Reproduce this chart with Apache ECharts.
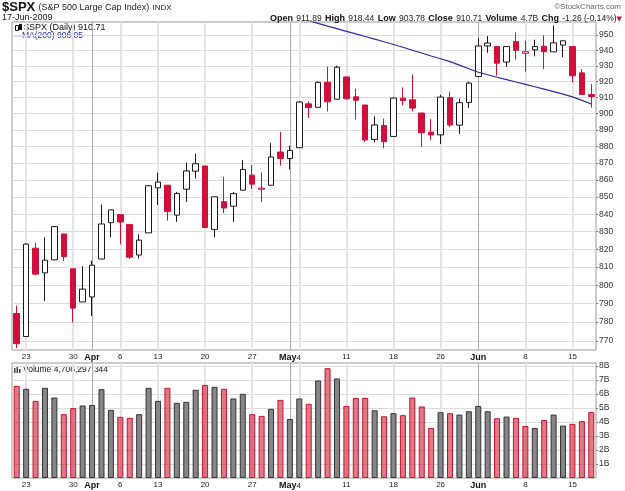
<!DOCTYPE html>
<html>
<head>
<meta charset="utf-8">
<script src="https://cdn.jsdelivr.net/npm/echarts@6/dist/echarts.min.js"></script>
<style>
  html, body { margin: 0; padding: 0; background: #fff; }
  #chart { width: 625px; height: 491px; }
</style>
</head>
<body>
<div id="chart"></div>
<script>
// trading days 20-Mar-2009 .. 17-Jun-2009
const dates = [
  '2009-03-20', '2009-03-23', '2009-03-24', '2009-03-25', '2009-03-26', '2009-03-27', '2009-03-30', '2009-03-31',
  '2009-04-01', '2009-04-02', '2009-04-03', '2009-04-06', '2009-04-07', '2009-04-08', '2009-04-09', '2009-04-13',
  '2009-04-14', '2009-04-15', '2009-04-16', '2009-04-17', '2009-04-20', '2009-04-21', '2009-04-22', '2009-04-23',
  '2009-04-24', '2009-04-27', '2009-04-28', '2009-04-29', '2009-04-30',
  '2009-05-01', '2009-05-04', '2009-05-05', '2009-05-06', '2009-05-07', '2009-05-08', '2009-05-11', '2009-05-12',
  '2009-05-13', '2009-05-14', '2009-05-15', '2009-05-18', '2009-05-19', '2009-05-20', '2009-05-21', '2009-05-22',
  '2009-05-26', '2009-05-27', '2009-05-28', '2009-05-29',
  '2009-06-01', '2009-06-02', '2009-06-03', '2009-06-04', '2009-06-05', '2009-06-08', '2009-06-09', '2009-06-10',
  '2009-06-11', '2009-06-12', '2009-06-15', '2009-06-16', '2009-06-17'
];
const open = [
  784.58, 772.31, 820.60, 806.81, 814.06, 828.68, 809.07, 790.88,
  793.59, 814.53, 835.13, 839.75, 834.12, 816.76, 829.29, 855.33, 856.88, 839.44, 854.54, 865.18,
  868.27, 831.25, 847.26, 844.62, 853.91, 862.82, 854.48, 856.85, 876.59,
  872.74, 879.21, 906.10, 903.95, 919.58, 909.03, 922.99, 910.52, 905.40, 884.24, 892.76,
  886.07, 909.67, 908.62, 900.42, 888.68, 887.00, 909.95, 892.96, 907.02,
  923.26, 942.87, 942.51, 932.49, 945.67, 938.12, 940.35, 942.73, 939.04, 943.44, 942.45, 925.60, 911.89
];
const high = [
  788.91, 823.37, 823.65, 826.78, 832.98, 828.68, 809.07, 810.48,
  813.62, 845.61, 842.50, 839.75, 834.12, 828.42, 856.91, 864.31, 856.88, 852.93, 870.35, 875.63,
  868.27, 850.09, 861.78, 852.87, 871.80, 868.83, 864.48, 882.06, 888.70,
  880.48, 907.85, 907.70, 920.28, 929.58, 930.17, 922.99, 915.57, 905.40, 898.36, 896.97,
  910.00, 916.39, 924.60, 900.42, 896.65, 911.76, 913.84, 909.45, 920.02,
  947.77, 949.38, 942.51, 942.47, 951.69, 946.33, 946.92, 949.77, 956.23, 946.30, 942.45, 928.00, 918.44
];
const low = [
  766.20, 772.31, 805.48, 791.37, 814.06, 813.43, 779.81, 790.88,
  783.32, 814.53, 826.70, 822.79, 814.53, 814.84, 829.29, 845.35, 836.31, 835.58, 847.04, 860.87,
  832.39, 826.83, 840.57, 835.45, 853.91, 854.65, 847.12, 856.85, 868.51,
  866.10, 879.21, 897.34, 903.95, 901.36, 909.03, 908.68, 896.46, 882.80, 882.52, 878.94,
  886.07, 905.22, 901.37, 879.61, 883.75, 881.46, 891.87, 887.60, 903.56,
  923.26, 938.46, 923.85, 929.32, 934.13, 926.44, 936.15, 927.97, 939.04, 935.66, 919.65, 911.60, 903.78
];
const close = [
  768.54, 822.92, 806.12, 813.88, 832.86, 815.94, 787.53, 797.87,
  811.08, 834.38, 842.50, 835.48, 815.55, 825.16, 856.56, 858.73, 841.50, 852.06, 865.30, 869.60,
  832.39, 850.08, 843.55, 851.92, 866.23, 857.51, 855.16, 873.64, 872.81,
  877.52, 907.24, 903.80, 919.53, 907.39, 929.23, 909.24, 908.35, 883.92, 893.07, 882.88,
  909.71, 908.13, 903.47, 888.33, 887.00, 910.33, 893.06, 906.83, 919.14,
  942.87, 944.74, 931.76, 942.46, 940.09, 939.14, 942.43, 939.15, 944.89, 946.21, 923.72, 911.97, 910.71
];
const prevClose = 784.04; // close of 19-Mar
// volume in billions
const volume = [
  6.57, 6.36, 5.50, 6.43, 5.74, 4.55, 4.98, 5.17,
  5.21, 6.33, 4.86, 4.36, 4.29, 4.55, 6.43, 5.50, 6.43, 5.36, 5.43, 6.29,
  6.64, 6.50, 6.36, 5.67, 6.00, 4.55, 4.43, 4.93, 5.57,
  4.21, 5.67, 5.29, 6.95, 7.83, 7.10, 5.14, 5.71, 5.71, 4.83, 4.40,
  4.62, 4.48, 5.74, 5.10, 3.57, 4.69, 4.62, 4.52, 4.76,
  5.14, 4.76, 4.26, 4.38, 4.29, 3.71, 3.57, 4.14, 4.52, 3.74, 3.86, 4.05, 4.71
];
const ma200 = [
  null, null, null, null, null, null, null, null,
  null, null, null, null, null, null, null, null, null, null, null, null,
  null, null, null, null, null, null, null, null, null,
  963.0, 961.0, 959.3, 957.6, 955.8, 954.1, 952.4, 950.7, 949.0, 947.3, 945.6,
  943.8, 942.0, 940.1, 938.3, 936.4, 934.6, 932.8, 930.5, 928.2,
  926.0, 924.4, 922.8, 921.3, 919.8, 918.3, 916.8, 915.3, 913.8, 912.2, 910.5, 908.3, 906.05
];
const priceTicks = [770, 780, 790, 800, 810, 820, 830, 840, 850, 860, 870, 880, 890, 900, 910, 920, 930, 940, 950];
const volTicks = [1, 2, 3, 4, 5, 6, 7, 8];
const labelIdx = [1, 6, 8, 11, 15, 20, 25, 29, 35, 40, 45, 49, 54, 59];
const labelText = ['23', '30', 'Apr', '6', '13', '20', '27', 'May4', '11', '18', '26', 'Jun', '8', '15'];
const weekIdx = [1, 6, 11, 15, 20, 25, 30, 35, 40, 45, 54, 59];
const monthIdx = [8, 29, 49];

const RED = '#d0103a';
const BLACK = '#1a1a1a';
const FONT = 'Liberation Sans';

let candles = [];
let volBars = [];
for (let i = 0; i < dates.length; i++) {
  let pc = i === 0 ? prevClose : close[i - 1];
  let col = close[i] >= pc ? BLACK : RED;
  // hollow body when close > open, filled otherwise
  let fill = close[i] > open[i] ? '#fff' : col;
  candles.push({
    value: [open[i], close[i], low[i], high[i]],
    itemStyle: { color: fill, color0: fill, borderColor: col, borderColor0: col }
  });
  volBars.push({
    value: volume[i],
    itemStyle: col === RED
      ? { color: 'rgba(204,40,60,0.62)', borderColor: '#c8102e' }
      : { color: '#868686', borderColor: '#333' }
  });
}

let xLabel = function (value, index) {
  let k = labelIdx.indexOf(index);
  if (k < 0) return '';
  let t = labelText[k];
  if (t === 'May4') return '{m|May}4';
  if (t === 'Apr' || t === 'Jun') return '{m|' + t + '}';
  return t;
};

let makeX = function (gridIndex) {
  return {
    type: 'category', gridIndex: gridIndex, data: dates, boundaryGap: true,
    axisLine: { show: false }, axisTick: { show: false },
    axisLabel: {
      interval: (idx) => labelIdx.includes(idx), formatter: xLabel,
      fontFamily: FONT, fontSize: 8, color: '#222', margin: 3,
      rich: { m: { fontFamily: FONT, fontSize: 9, fontWeight: 'bold', color: '#111' } }
    },
    splitLine: {
      show: true, alignWithLabel: true, interval: (idx) => weekIdx.includes(idx),
      lineStyle: { color: '#e4e4e4', width: 2 }
    }
  };
};
let makeMonthX = function (gridIndex) {
  return {
    type: 'category', gridIndex: gridIndex, data: dates, boundaryGap: true,
    axisLine: { show: false }, axisTick: { show: false }, axisLabel: { show: false },
    splitLine: {
      show: true, alignWithLabel: true, interval: (idx) => monthIdx.includes(idx),
      lineStyle: { color: '#ababab', width: 1 }
    }
  };
};

let chart = echarts.init(document.getElementById('chart'), null, { renderer: 'canvas' });
let option = {
  animation: false,
  backgroundColor: '#fff',
  grid: [
    { left: 12, right: 29, top: 22, height: 328, show: true, borderColor: '#999', borderWidth: 1, backgroundColor: '#fff', containLabel: false, outerBoundsMode: 'none' },
    { left: 12, right: 29, top: 363, height: 115, show: true, borderColor: '#999', borderWidth: 1, backgroundColor: '#fff', containLabel: false, outerBoundsMode: 'none' }
  ],
  xAxis: [makeX(0), makeX(1), makeMonthX(0), makeMonthX(1)],
  yAxis: [
    {
      type: 'log', gridIndex: 0, position: 'right', min: 765.2, max: 958.5,
      axisLine: { show: false },
      axisTick: { show: true, customValues: priceTicks, length: 2, lineStyle: { color: '#777' } },
      axisLabel: { customValues: priceTicks, fontFamily: FONT, fontSize: 8.5, color: '#333', margin: 3 },
      splitLine: { show: true, lineStyle: { color: '#dcdcdc', width: 1 } }
    },
    {
      type: 'value', gridIndex: 1, position: 'right', min: 0, max: 8.2,
      axisLine: { show: false },
      axisTick: { show: true, customValues: volTicks, length: 2, lineStyle: { color: '#777' } },
      axisLabel: { customValues: volTicks, formatter: (v) => v + 'B', fontFamily: FONT, fontSize: 8.5, color: '#333', margin: 3 },
      splitLine: { show: true, lineStyle: { color: '#dcdcdc', width: 1 } }
    }
  ],
  series: [
    {
      type: 'candlestick', name: '$SPX', xAxisIndex: 0, yAxisIndex: 0,
      barWidth: 6, data: candles, z: 2
    },
    {
      type: 'line', name: 'MA(200)', xAxisIndex: 0, yAxisIndex: 0, data: ma200,
      showSymbol: false, symbol: 'none', clip: true, z: 3,
      lineStyle: { color: '#2b2ba6', width: 1.2 }
    },
    {
      type: 'bar', name: 'Volume', xAxisIndex: 1, yAxisIndex: 1,
      barWidth: 6, data: volBars, itemStyle: { borderWidth: 1 }
    }
  ],
  graphic: [
    {
      type: 'text', left: 2, top: 1,
      style: {
        text: '{a|$SPX} {b|(S&P 500 Large Cap Index)} {c|INDX}',
        rich: {
          a: { fontFamily: FONT, fontSize: 13, fontWeight: 'bold', fill: '#111' },
          b: { fontFamily: FONT, fontSize: 9, fill: '#222' },
          c: { fontFamily: FONT, fontSize: 8, fill: '#222' }
        }
      }
    },
    { type: 'text', right: 4, top: 3, style: { text: '©StockCharts.com', fontFamily: FONT, fontSize: 8, fill: '#666' } },
    { type: 'text', left: 2, top: 13, style: { text: '17-Jun-2009', fontFamily: FONT, fontSize: 9, fill: '#111' } },
    {
      type: 'text', right: 3, top: 13,
      style: {
        text: '{k|Open} {v|911.89} {k|High} {v|918.44} {k|Low} {v|903.78} {k|Close} {v|910.71} {k|Volume} {v|4.7B} {k|Chg} {v|-1.26 (-0.14%)}{r|▼}',
        rich: {
          k: { fontFamily: FONT, fontSize: 9, fontWeight: 'bold', fill: '#111' },
          v: { fontFamily: FONT, fontSize: 8.5, fill: '#222' },
          r: { fontFamily: 'DejaVu Sans', fontSize: 7, fill: RED }
        }
      }
    },
    // legend of price panel
    { type: 'rect', left: 15, top: 25, shape: { width: 3, height: 5 }, style: { fill: '#fff', stroke: '#111', lineWidth: 1 } },
    { type: 'rect', left: 19, top: 24, shape: { width: 3, height: 6 }, style: { fill: '#111' } },
    { type: 'text', left: 24, top: 23, style: { text: '$SPX (Daily) 910.71', fontFamily: FONT, fontSize: 9, fill: '#111' } },
    { type: 'rect', left: 14, top: 35, shape: { width: 7, height: 1.2 }, style: { fill: '#2b2ba6' } },
    { type: 'text', left: 22, top: 31, style: { text: 'MA(200) 906.05', fontFamily: FONT, fontSize: 8.5, fill: '#2b2ba6' } },
    // legend of volume panel
    { type: 'rect', left: 14, top: 368, shape: { width: 1.5, height: 5 }, style: { fill: '#444' } },
    { type: 'rect', left: 16.5, top: 366, shape: { width: 1.5, height: 7 }, style: { fill: '#444' } },
    { type: 'rect', left: 19, top: 369, shape: { width: 1.5, height: 4 }, style: { fill: '#444' } },
    { type: 'text', left: 23, top: 365, style: { text: 'Volume 4,706,297,344', fontFamily: FONT, fontSize: 8.5, fill: '#111' } }
  ]
};
option && chart.setOption(option);
</script>
</body>
</html>
